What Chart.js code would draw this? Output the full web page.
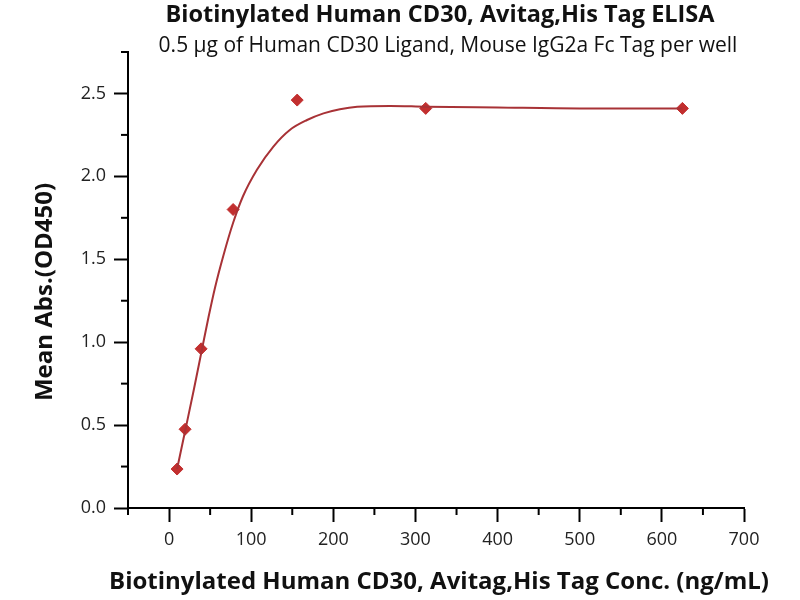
<!DOCTYPE html>
<html>
<head>
<meta charset="utf-8">
<script src="https://cdn.jsdelivr.net/npm/chart.js@4"></script>
<style>
  html, body { margin: 0; padding: 0; background: #fff; }
  #wrap { width: 800px; height: 600px; }
</style>
</head>
<body>
<div id="wrap"><canvas id="c" width="800" height="600"></canvas></div>
<script>
// measured points (ng/mL vs OD450)
const concs = [9.77, 19.5, 39, 78, 156, 312.5, 625];
const means = [0.235, 0.475, 0.96, 1.80, 2.46, 2.41, 2.41];

// fitted curve
const fitX = [9.77, 20, 30, 40, 48, 56, 66, 78, 90, 107, 127, 147, 168, 188, 208, 229, 269, 312.5, 400, 500, 625];
const fitY = [0.235, 0.475, 0.71, 0.955, 1.15, 1.33, 1.52, 1.72, 1.88, 2.04, 2.18, 2.28, 2.34, 2.38, 2.405, 2.42, 2.425, 2.42, 2.415, 2.41, 2.41];

const xMinor = [-50, 50, 150, 250, 350, 450, 550, 650];
const yMinor = [0.25, 0.75, 1.25, 1.75, 2.25, 2.75];

const chartTitle = "Biotinylated Human CD30, Avitag,His Tag ELISA";
const chartSubtitle = "0.5 \u03bcg of Human CD30 Ligand, Mouse IgG2a Fc Tag per well";
const xTitle = "Biotinylated Human CD30, Avitag,His Tag Conc. (ng/mL)";
const yTitle = "Mean Abs.(OD450)";

const FONT = "'Open Sans', Lato, sans-serif";
const RED = "#c22f2f";
const CURVE = "#a83236";

// minor ticks + the text around the plot
const decor = {
  id: "decor",
  afterDraw(chart) {
    const ctx = chart.ctx;
    const xs = chart.scales.x, ys = chart.scales.y;
    ctx.save();
    ctx.strokeStyle = "#000";
    ctx.lineWidth = 2;
    xMinor.forEach((v) => {
      const px = xs.getPixelForValue(v);
      ctx.beginPath();
      ctx.moveTo(px, ys.bottom);
      ctx.lineTo(px, ys.bottom + 7);
      ctx.stroke();
    });
    yMinor.forEach((v) => {
      const py = ys.getPixelForValue(v);
      ctx.beginPath();
      ctx.moveTo(xs.left, py);
      ctx.lineTo(xs.left - 7, py);
      ctx.stroke();
    });

    ctx.fillStyle = "#111";
    ctx.textAlign = "center";
    ctx.textBaseline = "middle";
    ctx.font = "bold 23.5px " + FONT;
    ctx.fillText(chartTitle, 440, 15);
    ctx.font = "21px " + FONT;
    ctx.fillText(chartSubtitle, 448, 46);
    ctx.font = "bold 24px " + FONT;
    ctx.fillText(xTitle, 439, 582);
    ctx.translate(45, 292);
    ctx.rotate(-Math.PI / 2);
    ctx.fillText(yTitle, 0, 0);
    ctx.restore();
  },
};

new Chart(document.getElementById("c"), {
  type: "scatter",
  data: {
    datasets: [
      {
        label: "fit",
        data: fitX.map((x, i) => ({ x: x, y: fitY[i] })),
        showLine: true,
        borderColor: CURVE,
        borderWidth: 2,
        pointRadius: 0,
        cubicInterpolationMode: "monotone",
      },
      {
        label: "data",
        data: concs.map((x, i) => ({ x: x, y: means[i] })),
        pointStyle: "rectRot",
        pointRadius: 6,
        backgroundColor: RED,
        borderColor: RED,
        borderWidth: 1,
      },
    ],
  },
  options: {
    responsive: false,
    animation: false,
    layout: { padding: { top: 52, right: 56, left: 0, bottom: 0 } },
    plugins: {
      legend: { display: false },
      tooltip: { enabled: false },
    },
    scales: {
      x: {
        type: "linear",
        min: -50,
        max: 700,
        afterFit: (s) => { s.height = 92; },
        border: { display: true, color: "#000", width: 2 },
        grid: { drawOnChartArea: false, drawTicks: true, tickLength: 14, tickWidth: 2, tickColor: "#000" },
        ticks: { stepSize: 100, includeBounds: false, padding: 7, color: "#222", font: { family: FONT, size: 18 } },
      },
      y: {
        type: "linear",
        min: 0,
        max: 2.75,
        afterFit: (s) => { s.width = 128; },
        border: { display: true, color: "#000", width: 2 },
        grid: { drawOnChartArea: false, drawTicks: true, tickLength: 14, tickWidth: 2, tickColor: "#000" },
        ticks: {
          stepSize: 0.5,
          includeBounds: false,
          padding: 8,
          color: "#222",
          font: { family: FONT, size: 18 },
          callback: (v) => v.toFixed(1),
        },
      },
    },
  },
  plugins: [decor],
});
</script>
</body>
</html>
